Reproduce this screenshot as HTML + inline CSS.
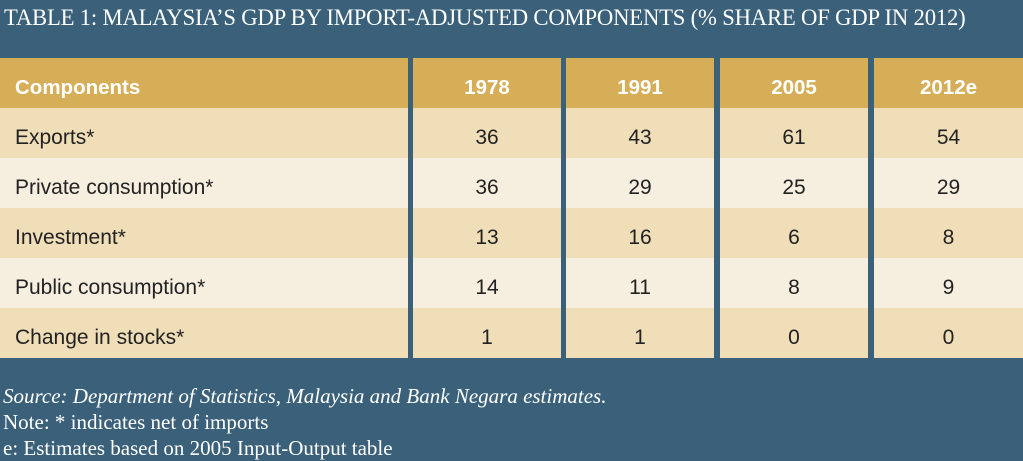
<!DOCTYPE html>
<html><head><style>
body{margin:0;width:1023px;height:461px;background:#3a6179;position:relative;overflow:hidden;font-family:"Liberation Sans",sans-serif}
.t{position:absolute;left:4px;top:5px;color:#fff;font-family:"Liberation Serif",serif;font-size:22.7px;white-space:nowrap;letter-spacing:-0.2px}
.c{position:absolute;box-sizing:border-box}
.h{background:#d6ae58;color:#fff;font-weight:bold;font-size:20.5px;line-height:59px}
.r1{background:#f0deb9}.r2{background:#f6eedf}
.cell{font-size:21px;color:#222;line-height:60px}
.f{position:absolute;left:3px;color:#fff;font-family:"Liberation Serif",serif;font-size:21px;white-space:nowrap}
</style></head><body>
<div class="t">TABLE 1: MALAYSIA’S GDP BY IMPORT-ADJUSTED COMPONENTS (% SHARE OF GDP IN 2012)</div>
<div id="tbl"></div>
<script>
var cols=[[0,408],[413,561],[566,714],[720,868],[874,1023]];
var rows=[["Components","1978","1991","2005","2012e"],["Exports*","36","43","61","54"],["Private consumption*","36","29","25","29"],["Investment*","13","16","6","8"],["Public consumption*","14","11","8","9"],["Change in stocks*","1","1","0","0"]];
var tops=[58,108,158,208,258,308],h=[50,50,50,50,50,50];
var s="";
rows.forEach(function(r,i){r.forEach(function(v,j){
var cls=i==0?"h":(i%2?"r1 cell":"r2 cell");
var al=j==0?"left;padding-left:15px":"center";
s+='<div class="c '+cls+'" style="left:'+cols[j][0]+'px;width:'+(cols[j][1]-cols[j][0])+'px;top:'+tops[i]+'px;height:'+h[i]+'px;text-align:'+al+';overflow:hidden">'+v+'</div>';});});
document.getElementById("tbl").innerHTML=s;
</script>
<div class="f" style="top:384px;font-style:italic">Source: Department of Statistics, Malaysia and Bank Negara estimates.</div>
<div class="f" style="top:410px">Note: * indicates net of imports</div>
<div class="f" style="top:436px">e: Estimates based on 2005 Input-Output table</div>
</body></html>
